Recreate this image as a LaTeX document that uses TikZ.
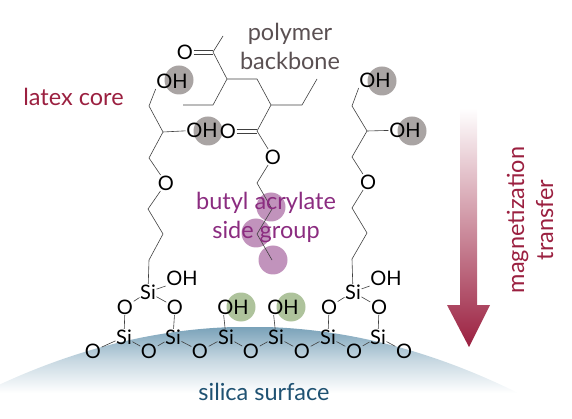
\documentclass[tikz,border=0pt]{standalone}
\usepackage{fontspec}
\setmainfont{Lato}
\definecolor{corered}{HTML}{9B2040}
\definecolor{backbonegray}{HTML}{5A5052}
\definecolor{butylpurple}{HTML}{8B2C80}
\definecolor{silicablue}{HTML}{1F5272}
\definecolor{surfaceblue}{HTML}{7AA2B9}
\definecolor{spotgray}{HTML}{A9A4A3}
\definecolor{spotpurple}{HTML}{C193BC}
\definecolor{spotgreen}{HTML}{AEC39C}
\tikzset{
    atom/.style={inner sep=0.5pt, font=\fontsize{20}{20}\selectfont, text=black},
    bond/.style={draw=black!75, line width=0.6pt},
    spot/.style={circle, minimum size=29pt, inner sep=0pt},
    caption/.style={align=center, font=\fontsize{23.5}{29}\selectfont},
}
\begin{document}
\begin{tikzpicture}[x=1pt, y=-1pt]
    \useasboundingbox (0,0) rectangle (572,419);
    \begin{scope}
        \clip (-22,395) .. controls (159,304) and (341,304) .. (522,395) -- cycle;
        \shade[top color=surfaceblue, bottom color=white, middle color=surfaceblue!42] (-22,327) rectangle (522,393);
    \end{scope}
    \shade[top color=white, bottom color=corered] (460,108) -- (477,108) -- (477,305) -- (490,305) -- (469,347) -- (447,305) -- (460,305) -- cycle;

    \foreach \name/\x/\y in {gl1/179/80, gl2/208/131, gl3/382/81, gl4/412/131}
        \node[spot, fill=spotgray] (\name) at (\x,\y) {};
    \foreach \name/\x/\y in {pu1/271/207, pu2/256/233, pu3/273/260}
        \node[spot, fill=spotpurple] (\name) at (\x,\y) {};
    \foreach \name/\x/\y in {gr1/241/307, gr2/291/307}
        \node[spot, fill=spotgreen] (\name) at (\x,\y) {};

    \node[atom] (oha) at (172,81) {OH};
    \node[atom] (ohb) at (202,130) {OH};
    \node[atom] (ohc) at (375,80) {OH};
    \node[atom] (ohd) at (405,130) {OH};
    \node[atom] (ohe) at (182,278) {OH};
    \node[atom] (ohf) at (386,278) {OH};
    \node[atom] (ohg) at (233,307) {OH};
    \node[atom] (ohh) at (283,307) {OH};
    \node[atom] (oa) at (166,183) {O};
    \node[atom] (ob) at (368,182) {O};
    \node[atom] (oc) at (185,52) {O};
    \node[atom] (od) at (228,131) {O};
    \node[atom] (oe) at (273,157) {O};

    \node[atom] (sia) at (148,292) {Si};
    \node[atom] (sib) at (353,292) {Si};
    \node[atom] (oal) at (125,307) {O};
    \node[atom] (oar) at (175,307) {O};
    \node[atom] (obl) at (329,307) {O};
    \node[atom] (obr) at (379,307) {O};
    \foreach \name/\x in {s1/124, s2/173, s3/226, s4/276, s5/328, s6/378}
        \node[atom] (\name) at (\x,337) {Si};
    \foreach \name/\x in {r0/93, r1/149, r2/200, r3/251, r4/302, r5/354, r6/404}
        \node[atom] (\name) at (\x,351) {O};

    \coordinate (la) at (149,106);
    \coordinate (lb) at (163,132);
    \coordinate (lc) at (149,158);
    \coordinate (ld) at (148,209);
    \coordinate (le) at (163,234);
    \coordinate (lf) at (149,260);
    \draw[bond] (oha.south west) -- (la) -- (lb) -- (lc) -- (oa);
    \draw[bond] (lb) -- (ohb);
    \draw[bond] (oa) -- (ld) -- (le) -- (lf) -- (sia);

    \coordinate (ra) at (352,106);
    \coordinate (rb) at (367,131);
    \coordinate (rc) at (352,157);
    \coordinate (rd) at (352,208);
    \coordinate (re) at (367,233);
    \coordinate (rf) at (352,259);
    \draw[bond] (ohc.south west) -- (ra) -- (rb) -- (rc) -- (ob);
    \draw[bond] (rb) -- (ohd);
    \draw[bond] (ob) -- (rd) -- (re) -- (rf) -- (sib);

    \coordinate (pa) at (213,52);
    \coordinate (pb) at (223,36);
    \coordinate (pc) at (227,79);
    \coordinate (pd) at (213,105);
    \coordinate (pe) at (183,105);
    \coordinate (pf) at (257,79);
    \coordinate (pg) at (271,105);
    \coordinate (ph) at (302,105);
    \coordinate (pi) at (317,79);
    \coordinate (pj) at (257,131);
    \draw[bond] (pb) -- (pa) -- (pc) -- (pd) -- (pe);
    \draw[bond] (pc) -- (pf) -- (pg) -- (ph) -- (pi);
    \draw[bond] (pg) -- (pj) -- (oe);
    \draw[bond] ([yshift=2pt]oc.east) -- ([yshift=2pt]pa);
    \draw[bond] ([yshift=-2pt]oc.east) -- ([yshift=-2pt]pa);
    \draw[bond] ([yshift=2pt]od.east) -- ([yshift=2pt]pj);
    \draw[bond] ([yshift=-2pt]od.east) -- ([yshift=-2pt]pj);

    \coordinate (ba) at (257,183);
    \coordinate (bb) at (272,209);
    \coordinate (bc) at (257,234);
    \coordinate (bd) at (272,260);
    \draw[bond] (oe) -- (ba) -- (bb) -- (bc) -- (bd);

    \draw[bond] (sia) -- (ohe.south west);
    \draw[bond] (sib) -- (ohf.south west);
    \draw[bond] (sia) -- (oal);
    \draw[bond] (sia) -- (oar);
    \draw[bond] (sib) -- (obl);
    \draw[bond] (sib) -- (obr);
    \draw[bond] (oal) -- (s1);
    \draw[bond] (oar) -- (s2);
    \draw[bond] (obl) -- (s5);
    \draw[bond] (obr) -- (s6);
    \draw[bond] (ohg.south west) ++(7,0) -- (s3);
    \draw[bond] (ohh.south west) ++(7,0) -- (s4);
    \draw[bond] (r0) -- (s1) -- (r1) -- (s2) -- (r2) -- (s3) -- (r3) -- (s4) -- (r4) -- (s5) -- (r5) -- (s6) -- (r6);

    \node[caption, text=corered] (core) at (73.5,97) {latex core};
    \node[caption, text=backbonegray] (backbone) at (290,46) {polymer\\backbone};
    \node[caption, text=butylpurple] (butyl) at (266,217) {butyl acrylate\\side group};
    \node[caption, text=silicablue] (silica) at (264,392) {silica surface};
    \node[caption, text=corered, rotate=90] (transfer) at (530,220) {magnetization\\transfer};
\end{tikzpicture}
\end{document}
